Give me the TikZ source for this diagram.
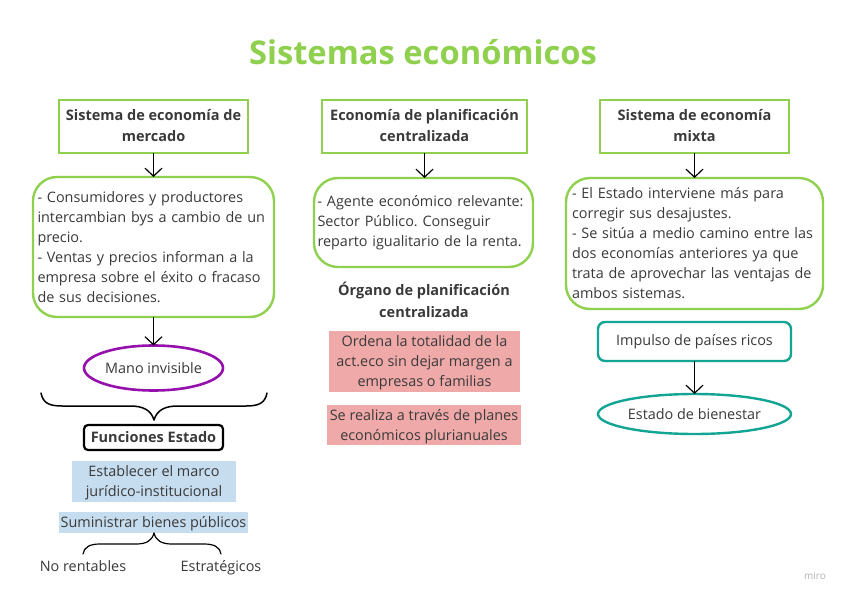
\documentclass[tikz,border=0pt]{standalone}
\usepackage{fontspec}
\setmainfont{Open Sans}
\usetikzlibrary{arrows.meta,shapes.geometric}
\definecolor{lime}{HTML}{8FD14F}
\definecolor{ink}{HTML}{3A3A3A}
\definecolor{plum}{HTML}{9510AC}
\definecolor{teal2}{HTML}{12A594}
\definecolor{bluefill}{HTML}{C6DCEF}
\definecolor{redfill}{HTML}{EFA9A9}
\newcommand\lowr[1]{\rule{0pt}{#1pt}}
\newcommand\upr{\rule[-2pt]{0pt}{2pt}}
\frenchspacing
\tikzset{
 x=1pt,y=-1pt,
 every node/.style={font=\fontsize{14.4}{20}\selectfont,text=ink,inner sep=0pt,outer sep=0pt,align=center},
 headbox/.style={draw=lime,line width=2.6pt,font=\fontsize{14.5}{21}\selectfont\bfseries},
 notebox/.style={draw=lime,line width=2.4pt,rounded corners=24pt,align=left},
 bluebox/.style={fill=bluefill},
 redbox/.style={fill=redfill},
 flow/.style={draw=black,line width=1.4pt,-{Straight Barb[length=8pt,width=17pt,line width=1.2pt]}},
 curly/.style={draw=black,line width=1.5pt,line cap=round},
}
\begin{document}
\begin{tikzpicture}
\useasboundingbox (0,0) rectangle (848,599);
\fill[white] (0,0) rectangle (848,599);
\node[font=\fontsize{32.7}{38}\selectfont\bfseries,text=lime] (title) at (423,52) {Sistemas económicos};
% left
\node[headbox,minimum width=189pt,minimum height=53pt] (h1) at (153.5,126.5) {Sistema de economía de\\mercado\upr};
\node[notebox,minimum width=241pt,minimum height=140pt,text width=232pt] (n1) at (153.5,247) {- Consumidores y productores\\intercambian bys a cambio de un\\precio.\\- Ventas y precios informan a la\\empresa sobre el éxito o fracaso\\de sus decisiones.};
\node[draw=plum,line width=2.6pt,ellipse,minimum width=139pt,minimum height=45pt] (mano) at (153.5,368) {Mano invisible};
\coordinate (bigL) at (41,393);
\coordinate (bigR) at (267,393);
\coordinate (bigT) at (154,420);
\draw[curly] (bigL) .. controls (43,403) and (49,406) .. (62,406) -- (130,406) .. controls (143,406) and (151,410) .. (bigT);
\draw[curly] (bigR) .. controls (265,403) and (259,406) .. (246,406) -- (178,406) .. controls (165,406) and (157,410) .. (bigT);
\node[draw=black,line width=2.2pt,rounded corners=4pt,minimum width=139pt,minimum height=25pt,font=\fontsize{14.5}{20}\selectfont\bfseries] (fun) at (153.5,437.5) {Funciones Estado};
\node[bluebox,minimum width=164pt,minimum height=41pt] (b1) at (154,481.5) {\lowr{13}Establecer el marco\\jurídico-institucional};
\node[bluebox,minimum width=189pt,minimum height=21pt] (b2) at (153.5,522) {\lowr{15}Suministrar bienes públicos};
\node[anchor=base] (nr) at (83,571) {No rentables};
\node[anchor=base] (es) at (221,571) {Estratégicos};
\coordinate (smT) at (154,533);
\coordinate (smL) at (83,554);
\coordinate (smR) at (221,554);
\draw[curly,line width=1.2pt] (smT) .. controls (152,541) and (146,544) .. (136,544) -- (100,544) .. controls (90,544) and (84,547) .. (smL);
\draw[curly,line width=1.2pt] (smT) .. controls (156,541) and (162,544) .. (172,544) -- (204,544) .. controls (214,544) and (220,547) .. (smR);
\draw[flow] (h1.south) -- (n1.north);
\draw[flow] (n1.south) -- (mano.north);
% middle
\node[headbox,minimum width=205pt,minimum height=53pt] (h2) at (424.5,126.5) {Economía de planificación\\centralizada\upr};
\node[notebox,minimum width=219pt,minimum height=89pt,text width=212pt] (n2) at (423.5,222.5) {- Agente económico relevante:\\Sector Público. Conseguir\\reparto igualitario de la renta.};
\node[font=\fontsize{14.5}{22}\selectfont\bfseries] (org) at (424,300) {Órgano de planificación\\centralizada};
\node[redbox,minimum width=191pt,minimum height=61pt] (r1) at (424.5,361.5) {\lowr{13}Ordena la totalidad de la\\act.eco sin dejar margen a\\empresas o familias};
\node[redbox,minimum width=194pt,minimum height=40pt] (r2) at (424,425) {\lowr{15}Se realiza a través de planes\\económicos plurianuales};
\draw[flow] (h2.south) -- (n2.north -| h2.south);
% right
\node[headbox,minimum width=189pt,minimum height=53pt] (h3) at (694.5,126.5) {Sistema de economía\\mixta\upr};
\node[notebox,minimum width=257pt,minimum height=131pt,text width=245pt] (n3) at (694.5,243.5) {- El Estado interviene más para\\corregir sus desajustes.\\- Se sitúa a medio camino entre las\\dos economías anteriores ya que\\trata de aprovechar las ventajas de\\ambos sistemas.};
\node[draw=teal2,line width=2.4pt,rounded corners=7pt,minimum width=193pt,minimum height=39pt] (imp) at (694.5,341.5) {Impulso de países ricos};
\node[draw=teal2,line width=2.4pt,ellipse,minimum width=193pt,minimum height=40pt] (est) at (694.5,414) {Estado de bienestar};
\draw[flow] (h3.south) -- (n3.north);
\draw[flow] (imp.south) -- (est.north);
\node[font=\fontsize{10}{12}\selectfont,text=black!30] (miro) at (815,576) {miro};
\end{tikzpicture}
\end{document}
